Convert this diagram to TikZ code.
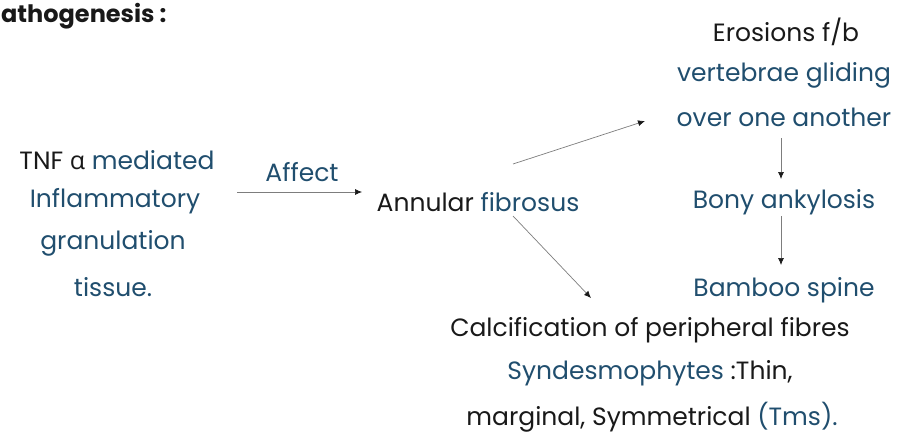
\documentclass[tikz,border=0pt]{standalone}
\usepackage{fontspec}
\setmainfont{Poppins}
\newfontfamily\grk{Open Sans}
\usetikzlibrary{arrows.meta}
\definecolor{ink}{RGB}{32,78,110}
\definecolor{blk}{RGB}{25,25,25}
\definecolor{arrgray}{RGB}{125,125,125}
\tikzset{
  txt/.style={inner sep=0pt, text=blk, font=\fontsize{25}{30}\selectfont},
  btxt/.style={txt, text=ink},
  flow/.style={draw=arrgray, line width=0.7pt, -{Latex[length=7pt,width=6pt,color=blk]}}
}
\begin{document}
\begin{tikzpicture}[x=1pt,y=-1pt]
\useasboundingbox (0,0) rectangle (898,447);
% title
\node[txt, anchor=west, font=\fontsize{24}{28}\selectfont\bfseries] (title) at (1,16) {athogenesis :};
% left block
\node[txt] (tnf) at (117,160) {TNF {\grk α} \textcolor{ink}{mediated}};
\node[btxt] (infl) at (115,201) {Inflammatory};
\node[btxt] (gran) at (113,243) {granulation};
\node[btxt] (tiss) at (113,287) {tissue.};
% affect
\node[btxt] (affect) at (302,172) {Affect};
\node[txt] (ann) at (478,202) {Annular \textcolor{ink}{fibrosus}};
\coordinate (aStart) at (237,192);
\coordinate (aEnd) at (362,192);
% right column
\node[txt] (eros) at (786,32) {Erosions f/b};
\node[btxt] (vert) at (784,75) {vertebrae gliding};
\node[btxt] (over) at (784,117) {over one another};
\node[btxt] (bony) at (784,202) {Bony ankylosis};
\node[btxt] (bamb) at (784,290) {Bamboo spine};
% bottom
\node[txt] (calc) at (650,330) {Calcification of peripheral fibres};
\node[btxt] (synd) at (650,373) {Syndesmophytes \textcolor{blk}{:Thin,}};
\node[txt] (marg) at (652,417) {marginal, Symmetrical \textcolor{ink}{(Tms).}};
% arrows
\draw[flow] (aStart) -- (aEnd);
\coordinate (u0) at (513,164);
\coordinate (u1) at (645,121);
\draw[flow] (u0) -- (u1);
\coordinate (d0) at (513,216);
\coordinate (d1) at (591,298);
\draw[flow] (d0) -- (d1);
\coordinate (v0) at (781,138);
\coordinate (v1) at (781,179);
\draw[flow] (v0) -- (v1);
\coordinate (w0) at (781,216);
\coordinate (w1) at (781,265);
\draw[flow] (w0) -- (w1);
\end{tikzpicture}
\end{document}
